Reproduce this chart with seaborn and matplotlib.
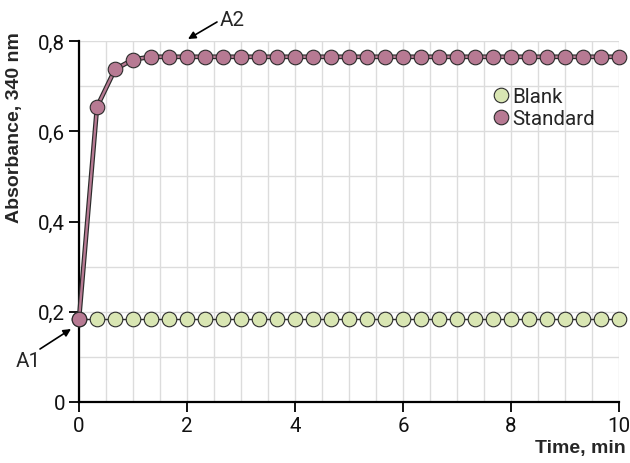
import numpy as np
import pandas as pd
import matplotlib
matplotlib.use("Agg")
import matplotlib.pyplot as plt
from matplotlib.lines import Line2D
from matplotlib.ticker import MultipleLocator, FuncFormatter
import seaborn as sns

# Data (time in min, sampled every 20 s)
time_min = [i / 3 for i in range(31)]
blank = [0.183] * 31
standard = [0.183, 0.654, 0.737, 0.759, 0.765] + [0.765] * 26
series_names = ["Blank", "Standard"]
x_ticks = [0, 2, 4, 6, 8, 10]
y_ticks = [0, 0.2, 0.4, 0.6, 0.8]

df = pd.DataFrame({
    "Time": time_min * 2,
    "Absorbance": blank + standard,
    "Sample": ["Blank"] * 31 + ["Standard"] * 31,
})

sns.set_theme(style="white")
plt.rcParams["font.family"] = ["Roboto", "DejaVu Sans"]

W, H = 630, 464
fig = plt.figure(figsize=(6.3, 4.64), dpi=100)
ax = fig.add_axes([79 / W, 1 - 403 / H, 540 / W, 361 / H])

colors = {"Blank": "#d9e6b3", "Standard": "#b77a93"}
edge = "#2b2b2b"
ms = 10.5
fs = 14.8

# Blank
sns.lineplot(data=df[df.Sample == "Blank"], x="Time", y="Absorbance", ax=ax,
             color=edge, linewidth=1.0, marker="o", markersize=ms,
             markerfacecolor=colors["Blank"], markeredgecolor=edge,
             markeredgewidth=0.8, zorder=3, legend=False)
# Standard: dark outline under pink line
sns.lineplot(data=df[df.Sample == "Standard"], x="Time", y="Absorbance", ax=ax,
             color=edge, linewidth=3.4, zorder=4, legend=False)
sns.lineplot(data=df[df.Sample == "Standard"], x="Time", y="Absorbance", ax=ax,
             color=colors["Standard"], linewidth=1.7, marker="o", markersize=ms,
             markerfacecolor=colors["Standard"], markeredgecolor=edge,
             markeredgewidth=0.8, zorder=5, legend=False)
for ln in ax.get_lines():
    ln.set_clip_on(False)

ax.set_xlim(0, 10)
ax.set_ylim(0, 0.8)
ax.set_xticks(x_ticks)
ax.set_yticks(y_ticks)
ax.xaxis.set_minor_locator(MultipleLocator(0.5))
ax.yaxis.set_minor_locator(MultipleLocator(0.1))
fmt = FuncFormatter(lambda v, p: "0" if abs(v) < 1e-9 else (f"{v:g}").replace(".", ","))
ax.xaxis.set_major_formatter(fmt)
ax.yaxis.set_major_formatter(fmt)
ax.grid(True, which="both", color="#dcdcdc", linewidth=1.0, zorder=0)
ax.set_axisbelow(True)
ax.tick_params(which="major", direction="out", length=7, width=1.3, color="black",
               labelsize=fs, labelcolor="#111111", bottom=True, left=True, pad=3)
ax.tick_params(which="minor", length=0)
for s in ["top", "right"]:
    ax.spines[s].set_visible(False)
for s in ["left", "bottom"]:
    ax.spines[s].set_color("black")
    ax.spines[s].set_linewidth(1.6)
    ax.spines[s].set_zorder(2.5)

ax.set_xlabel("")
ax.set_ylabel("")
bold = ["Liberation Sans", "DejaVu Sans"]
fig.text(15 / W, 1 - 128 / H, "Absorbance, 340 nm", rotation=90, ha="center",
         va="center", fontsize=14, fontweight="bold", family=bold)
fig.text(626 / W, 1 - 449 / H, "Time, min", ha="right", va="center", fontsize=14,
         fontweight="bold", family=bold)

handles = [Line2D([], [], linestyle="none", marker="o", markersize=ms,
                  markerfacecolor=colors[n], markeredgecolor=edge, markeredgewidth=0.8)
           for n in series_names]
fig.legend(handles, series_names, loc="upper left", bbox_to_anchor=(491 / W, 1 - 88 / H),
           bbox_transform=fig.transFigure, frameon=False, fontsize=fs,
           handletextpad=0.05, labelspacing=0.15, handlelength=1.0,
           borderaxespad=0, borderpad=0)

arrow = dict(arrowstyle="-|>", color="black", lw=1.2, shrinkA=0, shrinkB=0,
             mutation_scale=11)
ax.annotate("", xy=(188, H - 40), xytext=(217, H - 23), xycoords="figure pixels",
            textcoords="figure pixels", arrowprops=arrow, annotation_clip=False)
fig.text(232 / W, 1 - 21 / H, "A2", ha="center", va="center", fontsize=fs)
ax.annotate("", xy=(71, H - 330), xytext=(40, H - 350), xycoords="figure pixels",
            textcoords="figure pixels", arrowprops=arrow, annotation_clip=False)
fig.text(28 / W, 1 - 362 / H, "A1", ha="center", va="center", fontsize=fs)

fig.savefig("out.png", dpi=100)
